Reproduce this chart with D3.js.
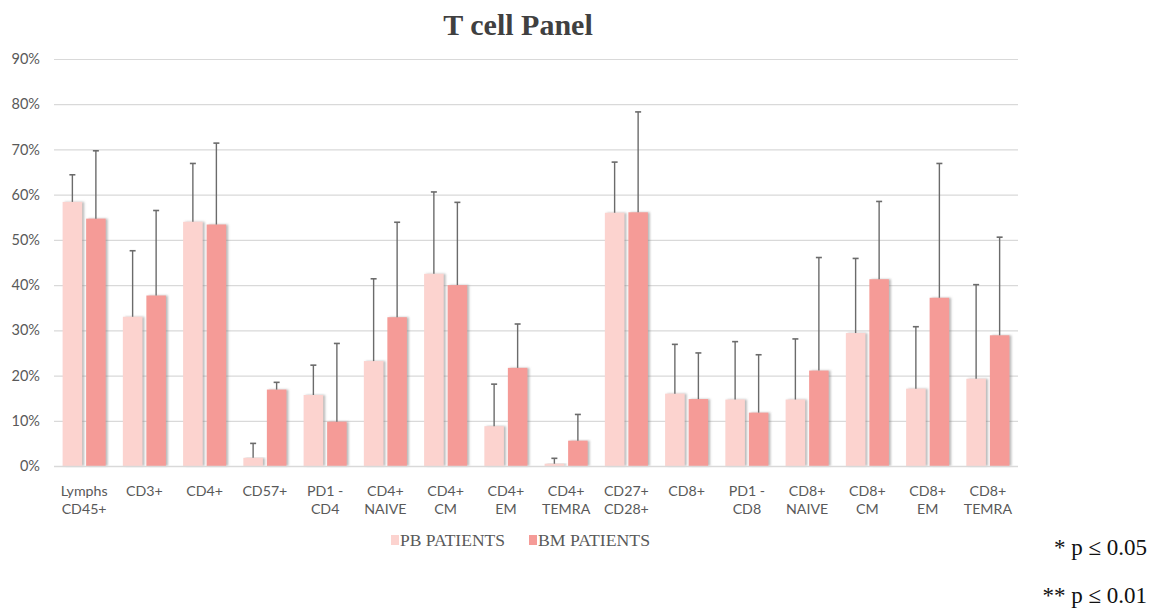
<!DOCTYPE html>
<html>
<head>
<meta charset="utf-8">
<script src="https://cdn.jsdelivr.net/npm/d3@7"></script>
<style>
  body { margin: 0; background: #fff; }
  svg { display: block; }
</style>
</head>
<body>
<svg id="chart" width="1160" height="612"></svg>
<script>
// category labels (two lines each)
const categories = [
    ["Lymphs", "CD45+"], ["CD3+", ""], ["CD4+", ""], ["CD57+", ""], ["PD1 -", "CD4"],
    ["CD4+", "NAIVE"], ["CD4+", "CM"], ["CD4+", "EM"], ["CD4+", "TEMRA"], ["CD27+", "CD28+"],
    ["CD8+", ""], ["PD1 -", "CD8"], ["CD8+", "NAIVE"], ["CD8+", "CM"], ["CD8+", "EM"], ["CD8+", "TEMRA"]
];
const seriesNames = ["PB PATIENTS", "BM PATIENTS"];

// means (%) and upper error (SD, %)
const pbMean = [58.4, 33.0, 54.0, 1.8, 15.7, 23.2, 42.5, 8.8, 0.5, 56.0, 16.0, 14.7, 14.7, 29.4, 17.1, 19.3];
const pbErr  = [6.0, 14.6, 12.9, 3.2, 6.6, 18.2, 18.1, 9.3, 1.2, 11.2, 10.9, 12.8, 13.4, 16.5, 13.7, 20.8];
const bmMean = [54.7, 37.7, 53.4, 16.9, 9.8, 32.9, 40.0, 21.7, 5.6, 56.1, 14.8, 11.8, 21.1, 41.3, 37.2, 28.9];
const bmErr  = [15.0, 18.8, 18.0, 1.6, 17.3, 21.0, 18.3, 9.7, 5.8, 22.2, 10.2, 12.8, 25.0, 17.2, 29.7, 21.7];

const yTicks = [0, 10, 20, 30, 40, 50, 60, 70, 80, 90];
const colors = ["#fcd3cf", "#f59b97"];

const svg = d3.select("#chart");
const margin = { left: 54, right: 142, top: 59, bottom: 146 };
const W = 1160, H = 612;

const x0 = d3.scaleBand().domain(d3.range(categories.length))
    .range([margin.left, W - margin.right]).padding(0);
const x1 = d3.scaleBand().domain([0, 1])
    .range([x0.bandwidth() * 0.143, x0.bandwidth() * 0.857]).paddingInner(0.17);
const y = d3.scaleLinear().domain([0, 90]).range([H - margin.bottom, margin.top]);

// bar shadow
const defs = svg.append("defs");
const f = defs.append("filter").attr("id", "shadow")
    .attr("x", "-20%").attr("y", "-5%").attr("width", "150%").attr("height", "110%");
f.append("feDropShadow").attr("dx", 2).attr("dy", 0).attr("stdDeviation", 1)
    .attr("flood-color", "#808080").attr("flood-opacity", 0.55);

// title
svg.append("text")
    .attr("x", 518).attr("y", 35)
    .attr("text-anchor", "middle")
    .style("font-family", "'Liberation Serif', 'Times New Roman', serif")
    .style("font-weight", "bold")
    .style("font-size", "30px")
    .style("fill", "#404040")
    .text("T cell Panel");

// gridlines
svg.append("g").selectAll("line")
    .data(yTicks).enter().append("line")
    .attr("x1", margin.left).attr("x2", W - margin.right)
    .attr("y1", d => y(d) + 0.5).attr("y2", d => y(d) + 0.5)
    .attr("stroke", "#d9d9d9").attr("stroke-width", 1.2);

// y axis labels
const yAxis = d3.axisLeft(y).tickValues(yTicks).tickFormat(d => d + "%").tickSize(0).tickPadding(0);
const yg = svg.append("g").attr("transform", `translate(${margin.left - 14},0)`).call(yAxis);
yg.select(".domain").remove();
yg.selectAll("text")
    .style("font-family", "Lato, 'Open Sans', sans-serif")
    .style("font-size", "14.5px")
    .style("fill", "#595959");

// bars
const data = categories.map((c, i) => ({
    i: i,
    vals: [{ s: 0, m: pbMean[i], e: pbErr[i] }, { s: 1, m: bmMean[i], e: bmErr[i] }]
}));

const groups = svg.append("g").selectAll("g")
    .data(data).enter().append("g")
    .attr("transform", d => `translate(${x0(d.i)},0)`);

groups.selectAll("rect")
    .data(d => d.vals).enter().append("rect")
    .attr("x", d => x1(d.s))
    .attr("width", x1.bandwidth())
    .attr("y", d => y(d.m))
    .attr("height", d => y(0) - y(d.m))
    .attr("fill", d => colors[d.s])
    .attr("filter", "url(#shadow)");

// error bars (upper only)
const eb = groups.selectAll("g.err")
    .data(d => d.vals).enter().append("g").attr("class", "err");
eb.append("line")
    .attr("x1", d => x1(d.s) + x1.bandwidth() / 2)
    .attr("x2", d => x1(d.s) + x1.bandwidth() / 2)
    .attr("y1", d => y(d.m))
    .attr("y2", d => y(d.m + d.e))
    .attr("stroke", "#6b6b6b").attr("stroke-width", 1.4);
eb.append("line")
    .attr("x1", d => x1(d.s) + x1.bandwidth() / 2 - 3)
    .attr("x2", d => x1(d.s) + x1.bandwidth() / 2 + 3)
    .attr("y1", d => y(d.m + d.e))
    .attr("y2", d => y(d.m + d.e))
    .attr("stroke", "#6b6b6b").attr("stroke-width", 1.6);

// x axis line
svg.append("line")
    .attr("x1", margin.left).attr("x2", W - margin.right)
    .attr("y1", y(0) + 0.5).attr("y2", y(0) + 0.5)
    .attr("stroke", "#d9d9d9").attr("stroke-width", 1.4);

// category labels
const xl = svg.append("g").selectAll("text")
    .data(categories).enter().append("text")
    .attr("x", (d, i) => x0(i) + x0.bandwidth() / 2)
    .attr("y", 496)
    .attr("text-anchor", "middle")
    .style("font-family", "Lato, 'Open Sans', sans-serif")
    .style("font-size", "14.2px")
    .style("fill", "#595959");
xl.append("tspan").attr("x", (d, i) => x0(i) + x0.bandwidth() / 2).text(d => d[0]);
xl.append("tspan").attr("x", (d, i) => x0(i) + x0.bandwidth() / 2).attr("dy", 18).text(d => d[1]);

// legend
const legX = [391, 529];
const leg = svg.append("g").selectAll("g")
    .data(seriesNames).enter().append("g")
    .attr("transform", (d, i) => `translate(${legX[i]},534)`);
leg.append("rect").attr("width", 8).attr("height", 10).attr("y", 1)
    .attr("fill", (d, i) => colors[i]);
leg.append("text").attr("x", 9).attr("y", 12)
    .attr("textLength", (d, i) => i === 0 ? 105 : 112)
    .attr("lengthAdjust", "spacingAndGlyphs")
    .style("font-family", "'Liberation Serif', 'Times New Roman', serif")
    .style("font-size", "17px")
    .style("fill", "#595959")
    .text(d => d);

// significance notes
const notes = ["* p \u2264 0.05", "** p \u2264 0.01"];
svg.append("g").selectAll("text")
    .data(notes).enter().append("text")
    .attr("x", 1147)
    .attr("y", (d, i) => 555 + i * 48)
    .attr("text-anchor", "end")
    .style("font-family", "'Liberation Serif', 'Times New Roman', serif")
    .style("font-size", "23px")
    .style("fill", "#111")
    .text(d => d);
</script>
</body>
</html>
